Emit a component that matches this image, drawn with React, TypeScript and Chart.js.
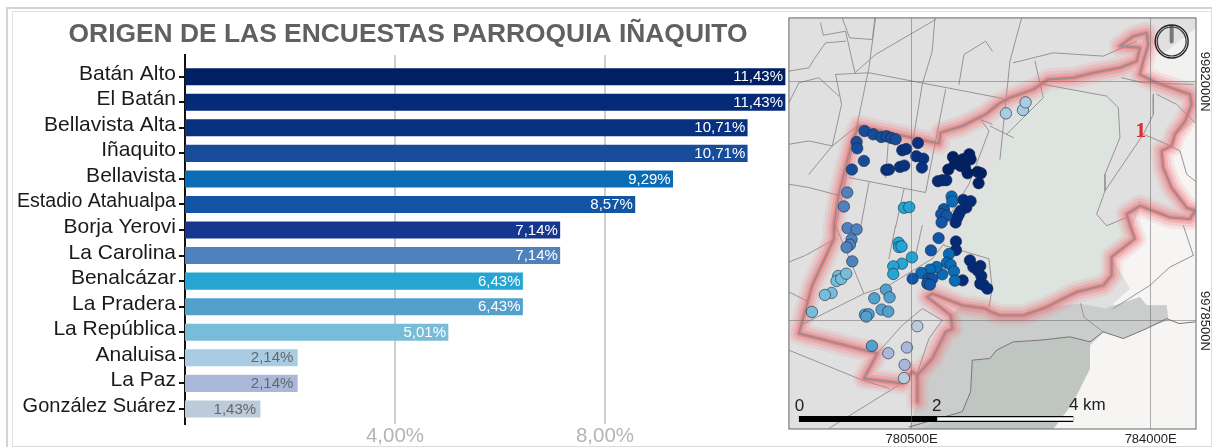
import React, { useEffect, useRef } from "react";
import { Chart, registerables } from "chart.js";

Chart.register(...registerables);

const FONT = '"Liberation Sans", Arial, sans-serif';

// ---- bar chart data
const categories = ["Batán Alto", "El Batán", "Bellavista Alta", "Iñaquito", "Bellavista", "Estadio Atahualpa", "Borja Yerovi", "La Carolina", "Benalcázar", "La Pradera", "La República", "Analuisa", "La Paz", "González Suárez"];
const shares = [11.43, 11.43, 10.71, 10.71, 9.29, 8.57, 7.14, 7.14, 6.43, 6.43, 5.01, 2.14, 2.14, 1.43];
const barColors = ["#011f63", "#042a78", "#08317f", "#174c9a", "#0a6cb5", "#1155a4", "#15378f", "#4f81bd", "#25a5d1", "#53a0cc", "#78bdd8", "#a8cce3", "#a9b8d8", "#bccbdb"];
const labelColors = ["#fff", "#fff", "#fff", "#fff", "#fff", "#fff", "#fff", "#fff", "#fff", "#fff", "#fff", "#666", "#666", "#666"];
const categoryFontSizes = [21, 21, 21, 21, 21, 19.6, 21, 21, 21, 21, 21, 21, 21, 20];
const shareTicks = [4, 8];

// ---- map data (map units)
const mapXTicks = [368, 1085];
const mapXLabels = ["780500E", "784000E"];
const mapYTicks = [192, 911];
const mapYLabels = ["9982000N", "9978500N"];

const surveyPoints: number[][][] = [
  [[492,418],[522,425],[541,410],[498,438],[515,445],[528,450],[536,467],[545,425],[566,463],[576,467],[569,497],[478,456]],
  [[447,491],[460,488],[472,488],[523,547],[545,551],[532,570],[515,580],[505,600],[500,615],[510,590],[501,672],[501,698],[543,729],[553,749],[574,746],[566,759],[577,776],[574,799],[583,802],[595,814],[521,789]],
  [[340,398],[352,394],[387,376],[382,416],[403,423],[399,450],[333,448],[346,444],[292,457],[300,456]],
  [[227,340],[253,350],[277,358],[293,356],[307,361],[320,365],[203,373],[205,392],[225,430],[189,456]],
  [[488,537],[490,552],[480,710],[474,736],[485,742],[495,762],[498,790],[460,771],[443,749],[423,757],[397,767]],
  [[465,575],[457,590],[473,595],[458,615],[449,662],[426,699],[371,784],[418,784],[430,784],[415,799],[423,802]],
  [],
  [[175,525],[165,567],[176,632],[203,636],[188,666],[183,682],[173,690],[190,732]],
  [[345,571],[361,569],[329,676],[330,689],[338,687],[369,720],[339,739],[313,747],[313,770]],
  [[291,817],[302,840],[256,843],[278,877],[298,883],[228,892],[239,891],[232,898],[249,986]],
  [[148,776],[143,791],[157,785],[172,769],[128,827],[108,833],[69,884]],
  [[651,287],[702,277],[710,254]],
  [[354,991],[298,1008],[347,1043]],
  [[385,927],[345,1083]],
];

const boundary = [[210,325],[300,345],[450,378],[455,345],[520,325],[590,290],[630,258],[663,240],[733,215],[778,185],[853,180],[913,165],[993,150],[1043,130],[1053,90],[993,85],[1033,55],[1073,45],[1078,80],[1063,130],[1053,170],[1103,195],[1203,230],[1208,260],[1188,310],[1158,350],[1148,385],[1118,400],[1123,450],[1148,510],[1193,570],[1218,580],[1203,605],[1143,600],[1053,565],[1013,590],[1023,624],[1038,664],[968,719],[968,774],[943,804],[863,824],[773,869],[703,894],[633,894],[603,882],[590,874],[520,864],[430,829],[415,839],[485,894],[490,934],[470,944],[430,1024],[385,1074],[385,1154],[385,1074],[370,1064],[340,1099],[225,1084],[265,1009],[30,949],[70,804],[135,664],[135,624],[150,530],[190,370],[210,325]];

const landArea = [[0,0],[1221,0],[1221,1236],[0,1236],[0,0]];
const parkArea = [[763,200],[953,235],[988,270],[993,360],[948,470],[948,520],[923,590],[953,625],[1013,600],[1023,624],[1038,664],[968,719],[968,774],[943,804],[863,824],[773,869],[703,894],[633,894],[603,882],[590,874],[520,864],[470,835],[460,814],[610,814],[600,724],[465,680],[530,630],[590,480],[630,425],[653,350],[678,310],[733,240],[763,200]];
const eastArea = [[1163,350],[1221,310],[1221,1236],[793,1236],[853,1154],[903,1054],[903,984],[943,944],[1003,964],[1073,934],[1133,904],[1221,914],[1138,909],[1133,864],[1073,864],[1053,839],[978,874],[973,859],[1023,814],[968,719],[1038,664],[1033,624],[1053,565],[1143,600],[1203,605],[1221,590],[1221,570],[1193,570],[1148,510],[1123,450],[1118,400],[1148,385],[1163,350]];
const northEastArea = [[1078,60],[1120,110],[1221,30],[1221,190],[1100,190],[1053,170],[1078,60]];
const southArea = [[875,859],[948,874],[1053,839],[1073,864],[1133,864],[1138,909],[1073,934],[1003,964],[943,944],[903,984],[903,1054],[853,1154],[793,1236],[360,1236],[385,1154],[385,1074],[430,1024],[470,944],[490,934],[485,894],[520,864],[590,874],[603,882],[633,894],[703,894],[773,869],[875,859]];
const southInnerArea = [[603,1024],[623,999],[673,974],[753,969],[843,959],[903,974],[903,1054],[853,1154],[793,1236],[390,1236],[520,1184],[545,1124],[550,1029],[603,1024]];

const roads: number[][][] = [
  [[95,15],[103,52],[170,40],[198,165],[260,110],[440,5]],
  [[160,0],[182,60],[250,65],[258,0]],
  [[260,0],[240,150],[205,320],[140,630],[135,664]],
  [[140,170],[240,165],[630,240],[660,250]],
  [[140,170],[158,260],[130,385]],
  [[0,380],[60,370],[130,385]],
  [[0,500],[60,510],[155,535]],
  [[60,470],[130,385],[205,325]],
  [[180,480],[410,525],[470,215]],
  [[0,255],[30,195],[90,180],[150,235]],
  [[0,160],[60,150],[75,125],[110,75],[170,70]],
  [[438,0],[430,100],[400,200],[372,370]],
  [[300,350],[290,480]],
  [[240,495],[215,630]],
  [[345,515],[320,630]],
  [[610,320],[575,305],[600,340],[540,500],[460,630]],
  [[510,200],[525,110],[590,70],[610,100]],
  [[698,0],[663,130],[633,425]],
  [[673,135],[793,105],[943,115],[1043,70]],
  [[738,130],[763,240],[653,350]],
  [[603,325],[673,360]],
  [[763,200],[953,235],[988,270],[993,360],[948,470],[948,520],[923,590],[953,625],[1013,600]],
  [[1093,230],[1093,290],[1063,350],[948,520]],
  [[1063,350],[1123,375],[1173,400],[1193,470],[1218,490]],
  [[998,180],[1063,195],[1213,200]],
  [[1103,230],[1163,260],[1218,315]],
  [[0,734],[50,714],[130,669]],
  [[140,624],[225,829]],
  [[0,824],[60,854]],
  [[320,624],[300,724]],
  [[35,924],[225,829],[300,804],[430,724],[465,679]],
  [[400,624],[380,714]],
  [[465,684],[600,724],[610,814],[600,869]],
  [[0,999],[220,1089],[300,1114]],
  [[120,1234],[330,1104]],
  [[460,909],[400,874],[340,924],[265,1009]],
  [[460,909],[420,964],[380,1084]],
  [[1213,714],[1143,749],[1083,804],[973,874]],
  [[1183,624],[1213,714]],
  [[875,859],[885,900],[943,944]],
];
const southLine = [[360,1230],[520,1184],[545,1124],[550,1029],[603,1024],[623,999],[673,974],[753,969],[843,959],[903,974],[943,944],[1003,964],[1073,934],[1133,904],[1170,919],[1218,914]];
const scaleBarBlack = [[30,1206],[445,1206]];
const scaleBarWhite = [[445,1206],[853,1206]];
const compassNeedle = [[1148,27],[1148,71]];
const compassCentre = [[1148,71]];

const mapTexts = [
  { text: "0", x: 32, y: 1167, size: 17, weight: "normal", family: FONT, color: "#222" },
  { text: "2", x: 443, y: 1167, size: 17, weight: "normal", family: FONT, color: "#222" },
  { text: "4 km", x: 895, y: 1164, size: 17, weight: "normal", family: FONT, color: "#222" },
  { text: "1", x: 1055, y: 340, size: 22, weight: "bold", family: '"Liberation Serif", serif', color: "#dc2a34" },
];

const pts = (a: number[][]) => a.map(([x, y]) => ({ x, y }));

const line = (a: number[][], color: string, width: number, extra: object = {}) => ({
  type: "scatter" as const, data: pts(a), showLine: true, borderColor: color, borderWidth: width,
  pointRadius: 0, tension: 0, borderJoinStyle: "round" as const, borderCapStyle: "round" as const, ...extra,
});
const area = (a: number[][], color: string) => line(a, "rgba(0,0,0,0)", 0, { fill: "shape", backgroundColor: color });

export default function App() {
  const barRef = useRef<HTMLCanvasElement>(null);
  const mapRef = useRef<HTMLCanvasElement>(null);

  useEffect(() => {
    const barLabels = {
      id: "barLabels",
      afterDatasetsDraw(chart: any) {
        const { ctx } = chart;
        const meta = chart.getDatasetMeta(0);
        ctx.save();
        ctx.font = `15px ${FONT}`;
        ctx.textAlign = "right";
        ctx.textBaseline = "middle";
        meta.data.forEach((el: any, i: number) => {
          ctx.fillStyle = labelColors[i];
          ctx.fillText(shares[i].toFixed(2).replace(".", ",") + "%", el.x - (i > 10 ? 4 : 2), el.y + 0.5);
        });
        ctx.restore();
      },
    };

    const barChart = new Chart(barRef.current!, {
      type: "bar",
      plugins: [barLabels],
      data: {
        datasets: [{
          data: shares.map((v, i) => ({ x: v, y: i })),
          backgroundColor: barColors,
          barThickness: 16.4,
        }],
      },
      options: {
        animation: false,
        responsive: false,
        indexAxis: "y",
        layout: { padding: 0 },
        plugins: {
          legend: { display: false },
          tooltip: { enabled: false },
          title: {
            display: true,
            text: "ORIGEN DE LAS ENCUESTAS PARROQUIA IÑAQUITO",
            color: "#5f6062",
            font: { family: FONT, size: 26.4, weight: "bold" },
            padding: { top: 19, bottom: 4.3 },
          },
        },
        scales: {
          y: {
            type: "linear",
            reverse: true,
            offset: false,
            min: -0.85,
            max: 13.59,
            afterFit: (axis: any) => { axis.width = 185; axis.paddingTop = 0; axis.paddingBottom = 0; },
            afterBuildTicks: (axis: any) => { axis.ticks = categories.map((_, i) => ({ value: i })); },
            grid: { offset: false, drawOnChartArea: false, tickLength: 6, color: "#111", lineWidth: 2 },
            border: { color: "#111", width: 2 },
            ticks: {
              autoSkip: false,
              padding: 3,
              labelOffset: -2.7,
              color: "#1a1a1a",
              font: (c: any) => ({ family: FONT, size: categoryFontSizes[c.index] ?? 21 }),
              callback: (v: any) => categories[v] ?? "",
            },
          },
          x: {
            type: "linear",
            min: 0,
            max: 12.02,
            afterFit: (axis: any) => { axis.height = 24; axis.paddingLeft = 0; axis.paddingRight = 0; },
            afterBuildTicks: (axis: any) => { axis.ticks = shareTicks.map((value) => ({ value })); },
            grid: { color: "#cfcfcf", lineWidth: 2, drawTicks: false },
            border: { display: false },
            ticks: {
              padding: 0,
              maxRotation: 0,
              color: "#b4b4b4",
              font: { family: FONT, size: 20.5 },
              callback: (v: any) => Number(v).toFixed(2).replace(".", ",") + "%",
            },
          },
        },
      } as any,
    });

    const mapDecor = {
      id: "mapDecor",
      afterDatasetsDraw(chart: any) {
        const { ctx, chartArea, scales } = chart;
        ctx.save();
        ctx.strokeStyle = "#666";
        ctx.lineWidth = 1;
        ctx.strokeRect(chartArea.left, chartArea.top, chartArea.width, chartArea.height);
        ctx.textBaseline = "middle";
        ctx.textAlign = "center";
        mapTexts.forEach((t) => {
          ctx.font = `${t.weight} ${t.size}px ${t.family}`;
          ctx.fillStyle = t.color;
          ctx.fillText(t.text, scales.x.getPixelForValue(t.x), scales.y.getPixelForValue(t.y));
        });
        ctx.font = `13px ${FONT}`;
        ctx.fillStyle = "#222";
        mapYTicks.forEach((v, i) => {
          ctx.save();
          ctx.translate(chartArea.right + 9, scales.y.getPixelForValue(v));
          ctx.rotate(Math.PI / 2);
          ctx.fillText(mapYLabels[i], 0, 0);
          ctx.restore();
        });
        ctx.restore();
      },
    };

    const layers: any[] = [
      area(landArea, "#e0e0e0"),
      area(parkArea, "#dde4df"),
      area(eastArea, "#f6f5f4"),
      area(northEastArea, "#f3f0f0"),
      area(southArea, "#cbcdcc"),
      area(southInnerArea, "#bfc6c2"),
      ...roads.map((r) => line(r, "#959595", 1)),
      line(southLine, "#777", 1),
      line(boundary, "rgba(240,130,135,0.14)", 22),
      line(boundary, "rgba(240,120,125,0.20)", 16),
      line(boundary, "rgba(240,110,115,0.28)", 10),
      line(boundary, "rgba(240,100,105,0.40)", 5),
      line(boundary, "#a08a8a", 2),
      ...surveyPoints.map((p, i) => ({
        type: "scatter" as const,
        data: pts(p),
        backgroundColor: barColors[i],
        borderColor: "rgba(20,40,70,0.75)",
        borderWidth: 0.8,
        pointRadius: 5.7,
      })),
      line(scaleBarBlack, "#000", 6, { borderCapStyle: "butt" }),
      line(scaleBarWhite, "#000", 6, { borderCapStyle: "butt" }),
      line(scaleBarWhite, "#fff", 3.4, { borderCapStyle: "butt" }),
      line(compassNeedle, "#777", 4, { borderCapStyle: "butt" }),
      { type: "scatter" as const, data: pts(compassCentre), pointRadius: 16.5, borderColor: "#222", borderWidth: 1.4, backgroundColor: "rgba(0,0,0,0)" },
      { type: "scatter" as const, data: pts(compassCentre), pointRadius: 14.5, borderColor: "#333", borderWidth: 1.2, backgroundColor: "rgba(0,0,0,0)" },
    ];
    layers.forEach((d, i) => { d.order = layers.length - i; });

    const mapChart = new Chart(mapRef.current!, {
      type: "scatter",
      plugins: [mapDecor],
      data: { datasets: layers },
      options: {
        animation: false,
        responsive: false,
        layout: { padding: { left: 0, top: 17, right: 0, bottom: 0 } },
        plugins: { legend: { display: false }, tooltip: { enabled: false }, title: { display: false } },
        scales: {
          x: {
            type: "linear",
            min: 0,
            max: 1221,
            afterFit: (axis: any) => { axis.height = 19; axis.paddingLeft = 0; axis.paddingRight = 0; },
            afterBuildTicks: (axis: any) => { axis.ticks = mapXTicks.map((value) => ({ value })); },
            grid: { z: 1, color: "rgba(100,100,100,0.5)", drawTicks: false },
            border: { display: false },
            ticks: {
              padding: 3,
              maxRotation: 0,
              color: "#222",
              font: { family: FONT, size: 13 },
              callback: (v: any) => mapXLabels[mapXTicks.indexOf(v)] ?? "",
            },
          },
          y: {
            type: "linear",
            position: "right",
            reverse: true,
            min: 0,
            max: 1236,
            afterFit: (axis: any) => { axis.width = 18; axis.paddingTop = 0; axis.paddingBottom = 0; },
            afterBuildTicks: (axis: any) => { axis.ticks = mapYTicks.map((value) => ({ value })); },
            grid: { z: 1, color: "rgba(100,100,100,0.5)", drawTicks: false },
            border: { display: false },
            ticks: { display: false },
          },
        },
      } as any,
    });

    return () => { barChart.destroy(); mapChart.destroy(); };
  }, []);

  return (
    <div style={{ position: "absolute", left: 0, top: 0, width: 1214, height: 448, overflow: "hidden", background: "#fff" }}>
      <div style={{ position: "absolute", left: 6, top: 7, width: 1206, height: 440, boxSizing: "border-box", borderTop: "2px solid #d4d4d4", borderLeft: "2px solid #d4d4d4", borderRight: "1px solid #ddd" }} />
      <div style={{ position: "absolute", left: 12, top: 11, width: 1200, height: 436, boxSizing: "border-box", borderTop: "1px solid #e2e2e2", borderLeft: "1px solid #e2e2e2", borderBottom: "1px solid #dcdcdc" }} />
      <canvas ref={barRef} width={816} height={448} style={{ position: "absolute", left: 0, top: 0, width: 816, height: 448 }} />
      <canvas ref={mapRef} width={443} height={448} style={{ position: "absolute", left: 771, top: 0, width: 443, height: 448 }} />
    </div>
  );
}
